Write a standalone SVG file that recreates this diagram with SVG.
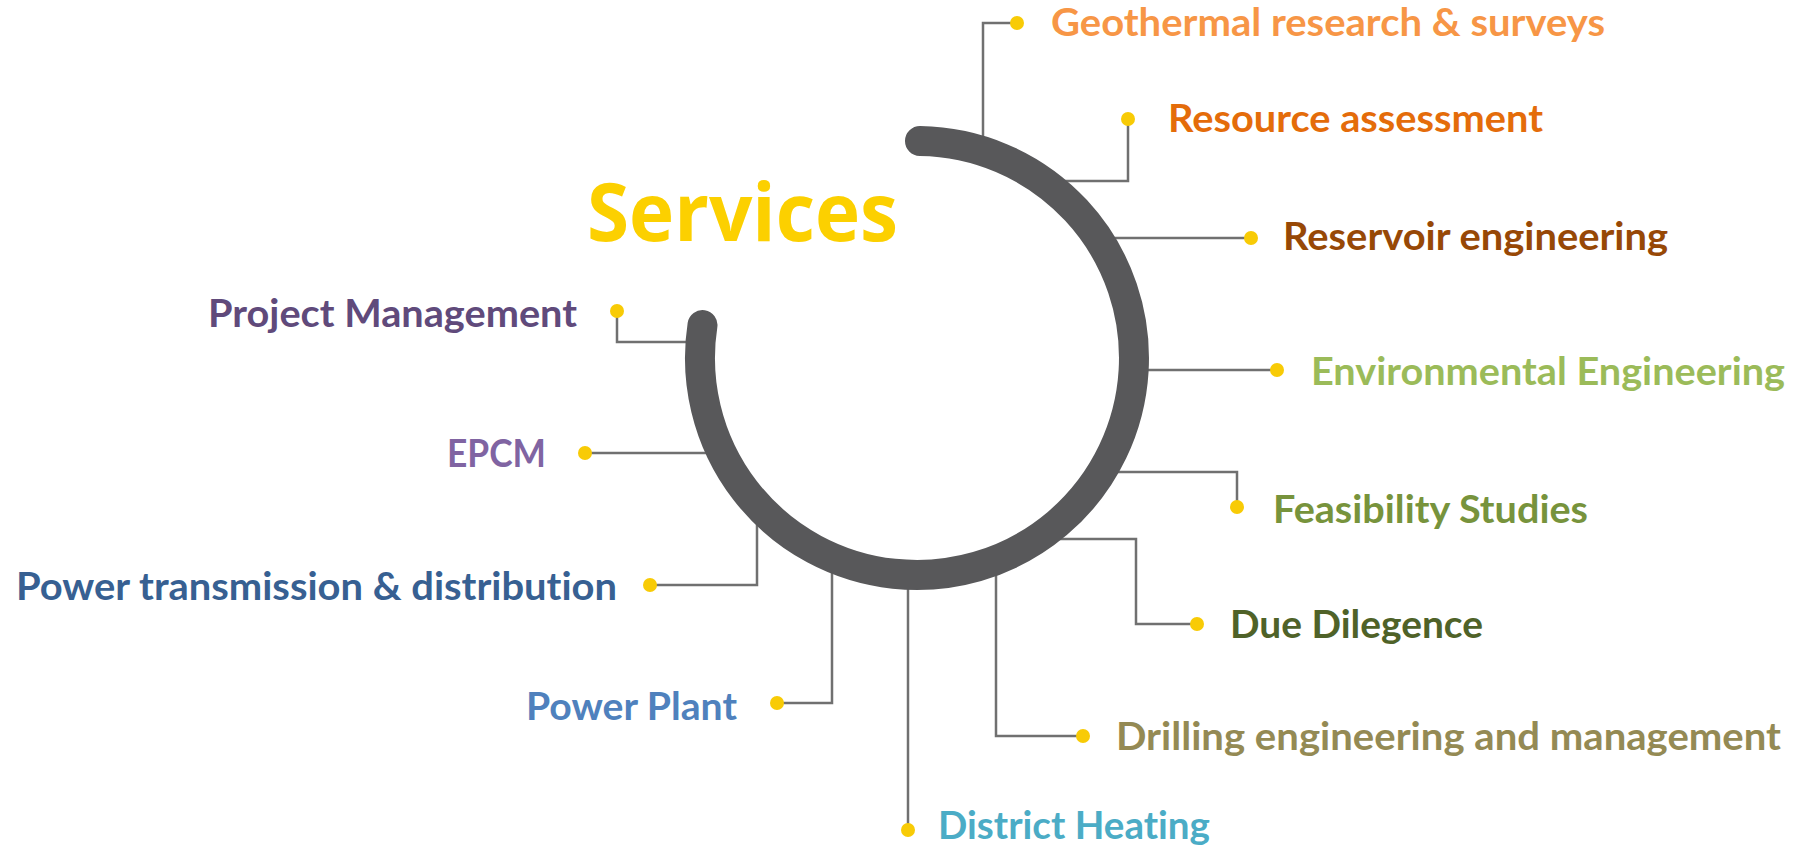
<svg xmlns="http://www.w3.org/2000/svg" width="1798" height="849" viewBox="0 0 1798 849">
<style>
.bg{fill:#ffffff}
.arc{fill:none;stroke:#58585a;stroke-width:30;stroke-linecap:round}
.con{fill:none;stroke:#707070;stroke-width:2.5}
.dot{fill:#f8cb06}
.lbl{font-family:Lato,"Open Sans","Liberation Sans",sans-serif;font-weight:700;font-size:39px;font-variant-ligatures:none}
.title{font-family:"Open Sans","Noto Sans","Liberation Sans",sans-serif;font-weight:700;font-size:80px;fill:#fcd000}
</style>
<rect class="bg" x="0" y="0" width="1798" height="849"/>
<g id="connectors">
<path class="con" d="M983 140 V23 H1017"/>
<path class="con" d="M1064 181 H1128 V119"/>
<path class="con" d="M1112 238 H1251"/>
<path class="con" d="M1145 370 H1277"/>
<path class="con" d="M1117 472 H1237 V507"/>
<path class="con" d="M1059 539 H1136 V624 H1197"/>
<path class="con" d="M996 573 V736 H1083"/>
<path class="con" d="M908 586 V830"/>
<path class="con" d="M832 570 V703 H777"/>
<path class="con" d="M757 521 V585 H650"/>
<path class="con" d="M709 453 H585"/>
<path class="con" d="M689 342 H617 V311"/>
</g>
<g id="ring">
<path class="arc" d="M920 141 A217 217 0 1 1 702.5 325"/>
</g>
<g id="title"><text class="title" x="587" y="241" textLength="311" lengthAdjust="spacingAndGlyphs">Services</text></g>
<g id="n-geothermal"><circle class="dot" cx="1017" cy="23" r="7"/><text class="lbl" x="1051" y="36" fill="#f79646" textLength="554" lengthAdjust="spacingAndGlyphs">Geothermal research &amp; surveys</text></g>
<g id="n-resource"><circle class="dot" cx="1128" cy="119" r="7"/><text class="lbl" x="1168" y="132" fill="#e46c0a" textLength="375" lengthAdjust="spacingAndGlyphs">Resource assessment</text></g>
<g id="n-reservoir"><circle class="dot" cx="1251" cy="238" r="7"/><text class="lbl" x="1283" y="250" fill="#974806" textLength="385" lengthAdjust="spacingAndGlyphs">Reservoir engineering</text></g>
<g id="n-environmental"><circle class="dot" cx="1277" cy="370" r="7"/><text class="lbl" x="1311" y="385" fill="#9bbb59" textLength="474" lengthAdjust="spacingAndGlyphs">Environmental Engineering</text></g>
<g id="n-feasibility"><circle class="dot" cx="1237" cy="507" r="7"/><text class="lbl" x="1273" y="523" fill="#77933c" textLength="315" lengthAdjust="spacingAndGlyphs">Feasibility Studies</text></g>
<g id="n-due"><circle class="dot" cx="1197" cy="624" r="7"/><text class="lbl" x="1230" y="638" fill="#4f6228" textLength="253" lengthAdjust="spacingAndGlyphs">Due Dilegence</text></g>
<g id="n-drilling"><circle class="dot" cx="1083" cy="736" r="7"/><text class="lbl" x="1116" y="750" fill="#948a54" textLength="665" lengthAdjust="spacingAndGlyphs">Drilling engineering and management</text></g>
<g id="n-district"><circle class="dot" cx="908" cy="830" r="7"/><text class="lbl" x="938" y="839" fill="#4bacc6" textLength="272" lengthAdjust="spacingAndGlyphs">District Heating</text></g>
<g id="n-powerplant"><circle class="dot" cx="777" cy="703" r="7"/><text class="lbl" x="526" y="720" fill="#4f81bd" textLength="211" lengthAdjust="spacingAndGlyphs">Power Plant</text></g>
<g id="n-transmission"><circle class="dot" cx="650" cy="585" r="7"/><text class="lbl" x="16" y="600" fill="#376092" textLength="601" lengthAdjust="spacingAndGlyphs">Power transmission &amp; distribution</text></g>
<g id="n-epcm"><circle class="dot" cx="585" cy="453" r="7"/><text class="lbl" x="447" y="467" fill="#8064a2" textLength="99" lengthAdjust="spacingAndGlyphs">EPCM</text></g>
<g id="n-pm"><circle class="dot" cx="617" cy="311" r="7"/><text class="lbl" x="208" y="327" fill="#604a7b" textLength="369" lengthAdjust="spacingAndGlyphs">Project Management</text></g>
</svg>
